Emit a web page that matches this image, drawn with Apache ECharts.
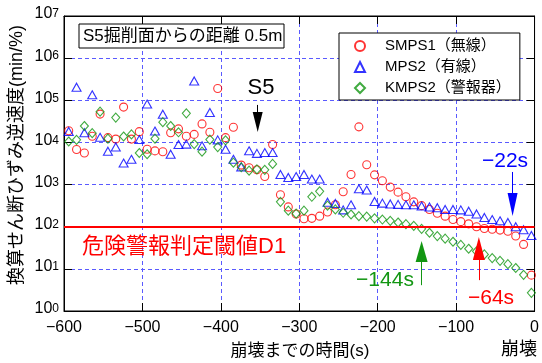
<!DOCTYPE html>
<html>
<head>
<meta charset="utf-8">
<script src="https://cdn.jsdelivr.net/npm/echarts@6/dist/echarts.min.js"></script>
<style>
  html, body { margin: 0; padding: 0; background: #fff; }
  #chart { width: 542px; height: 363px; }
</style>
</head>
<body>
<div id="chart"></div>
<script>
// 崩壊までの時間 (s)
const times = [
  -594, -584, -574, -564, -554, -544, -534, -524, -514, -504,
  -494, -484, -474, -464, -454, -444, -434, -424, -414, -404,
  -394, -384, -374, -364, -354, -344, -334, -324, -314, -304,
  -294, -284, -274, -264, -254, -244, -234, -224, -214, -204,
  -194, -184, -174, -164, -154, -144, -134, -124, -114, -104,
  -94, -84, -74, -64, -54, -44, -34, -24, -14, -4
];

// 換算せん断ひずみ逆速度 (min/%)
const smps1 = [
  19000, 6800, 5600, 14000, 47000, 13000, 12000, 69000, 12000, 18000,
  6900, 6300, 6000, 17000, 21000, 14000, 15500, 27500, 17500, 190000,
  13000, 23000, 2900, 2500, 2250, 1550, 8900, 575, 295, 200,
  155, 158, 178, 224, 331, 676, 1740, 23400, 2950, 1700,
  1230, 871, 661, 513, 389, 316, 257, 209, 178, 148,
  132, 117, 100, 91, 87, 83, 78, 60, 38, 7.1
];
const mps2 = [
  18200, 204000, 17000, 135000, 13200, 6170, 7760, 3240, 3980, 11700,
  81300, 18600, 46800, 5250, 8910, 9120, 288000, 8320, 51300, 11500,
  6920, 3980, 2630, 6310, 5500, 5750, 5750, 1740, 1480, 1550,
  1740, 1350, 1350, 380, 355, 251, 331, 794, 741, 398,
  363, 347, 339, 331, 331, 309, 295, 282, 257, 257,
  251, 234, 200, 166, 148, 138, 126, 100, 85, 62
];
const kmps2 = [
  10500, 11500, 24500, 16600, 53700, 12300, 38900, 13800, 15500, 5620,
  5250, 12300, 30200, 24500, 17400, 49000, 9120, 6030, 11700, 7760,
  11200, 3310, 2570, 2140, 2290, 2240, 3090, 389, 240, 204,
  240, 513, 692, 316, 257, 214, 195, 178, 174, 158,
  148, 138, 126, 115, 105, 89, 72, 60, 52, 44,
  37, 30, 26, 22, 18, 15.5, 12.9, 10.5, 7.2, 2.7
];

const seriesNames = ['SMPS1（無線）', 'MPS2（有線）', 'KMPS2（警報器）'];
const threshold = 100; // 危険警報判定閾値D1

// arrows: time, start value, end value (arrow head end)
const arrowS5 = [-353, 77600, 30500];
const arrow22 = [-28, 1990, 337];
const arrow144 = [-144, 4.1, 25.8];
const arrow64 = [-71, 5.4, 30.4];

const RED = '#ff0000', BLUE = '#0000ff', GREEN = '#129612';
const FONT = "'Liberation Sans', 'Noto Sans CJK JP', sans-serif";

const chart = echarts.init(document.getElementById('chart'));

const pts = (arr) => times.map((t, i) => [t, arr[i]]);

const arrowLine = (a, size) => [
  { coord: [a[0], a[1]], symbol: 'none' },
  { coord: [a[0], a[2]], symbol: 'triangle', symbolSize: size }
];

const minus = (v) => String(v).replace('-', '\u2212');

const xAxisBase = {
  type: 'value', min: -600, max: 0, interval: 100,
  axisLine: { show: true, onZero: false, lineStyle: { color: '#000', width: 1 } },
  axisTick: { show: true, inside: true, length: 8, lineStyle: { color: '#000' } }
};
const yAxisBase = {
  type: 'log', logBase: 10, min: 1, max: 1e7, splitNumber: 7,
  axisLine: { show: true, onZero: false, lineStyle: { color: '#000', width: 1 } },
  axisTick: { show: true, inside: true, length: 8, lineStyle: { color: '#000' } }
};
const gridLine = { show: true, lineStyle: { color: '#5a5aff', type: [4, 3], width: 1 } };

chart.setOption({
  animation: false,
  textStyle: { fontFamily: FONT, color: '#000' },
  grid: { left: 64, right: 5, top: 16, bottom: 52, show: true, borderColor: '#000', borderWidth: 1 },
  legend: {
    data: seriesNames,
    orient: 'vertical',
    left: 339, top: 33,
    padding: [5, 9, 4, 15],
    itemGap: 5,
    itemWidth: 10, itemHeight: 10,
    backgroundColor: '#fff',
    borderColor: '#000', borderWidth: 1, borderRadius: 0,
    textStyle: { fontSize: 15, lineHeight: 16, color: '#000', fontFamily: FONT, padding: [0, 0, 0, 15] }
  },
  xAxis: [
    Object.assign({}, xAxisBase, {
      position: 'bottom',
      axisLabel: { fontSize: 16, color: '#000', margin: 9, formatter: minus },
      splitLine: gridLine
    }),
    Object.assign({}, xAxisBase, {
      position: 'top', axisLabel: { show: false }, splitLine: { show: false }
    })
  ],
  yAxis: [
    Object.assign({}, yAxisBase, {
      position: 'left',
      axisLabel: {
        margin: 5,
        formatter: (v) => '{b|10}{s|' + Math.round(Math.log10(v)) + '}',
        rich: {
          b: { fontSize: 16, lineHeight: 16, verticalAlign: 'bottom', padding: [6, 0, 2, 0], color: '#000', fontFamily: FONT },
          s: { fontSize: 12, lineHeight: 12, verticalAlign: 'top', color: '#000', fontFamily: FONT }
        }
      },
      splitLine: gridLine
    }),
    Object.assign({}, yAxisBase, {
      position: 'right', axisLabel: { show: false }, splitLine: { show: false }
    })
  ],
  series: [
    {
      name: seriesNames[0], type: 'scatter', data: pts(smps1),
      symbol: 'circle', symbolSize: 8,
      itemStyle: { color: 'rgba(0,0,0,0)', borderColor: RED, borderWidth: 1.1 },
      markLine: {
        silent: true, animation: false, symbol: ['none', 'none'],
        label: { show: false },
        lineStyle: { color: RED, type: 'solid', width: 1 },
        data: [
          [{ coord: [-600, threshold], lineStyle: { width: 2.2 } }, { coord: [0, threshold], lineStyle: { width: 2.2 } }],
          arrowLine(arrow64, [12, 23])
        ]
      }
    },
    {
      name: seriesNames[1], type: 'scatter', data: pts(mps2),
      symbol: 'triangle', symbolSize: [9, 8],
      itemStyle: { color: 'rgba(0,0,0,0)', borderColor: BLUE, borderWidth: 1.1 },
      markLine: {
        silent: true, animation: false, symbol: ['none', 'none'],
        label: { show: false },
        lineStyle: { color: BLUE, type: 'solid', width: 1 },
        data: [arrowLine(arrow22, [10, 23])]
      }
    },
    {
      name: seriesNames[2], type: 'scatter', data: pts(kmps2),
      symbol: 'diamond', symbolSize: [8, 9],
      itemStyle: { color: 'rgba(0,0,0,0)', borderColor: GREEN, borderWidth: 1.1 },
      markLine: {
        silent: true, animation: false, symbol: ['none', 'none'],
        label: { show: false },
        lineStyle: { color: GREEN, type: 'solid', width: 1 },
        data: [arrowLine(arrow144, [12, 21])]
      }
    },
    {
      name: 'S5', type: 'scatter', data: [],
      markLine: {
        silent: true, animation: false, symbol: ['none', 'none'],
        label: { show: false },
        lineStyle: { color: '#000', type: 'solid', width: 1 },
        data: [arrowLine(arrowS5, [10, 20])]
      }
    }
  ],
  graphic: [
    { type: 'rect', shape: { x: 79, y: 24, width: 205, height: 24 }, style: { fill: '#fff', stroke: '#000', lineWidth: 1 }, z: 50 },
    { type: 'text', x: 83, y: 36, z: 51, style: { text: 'S5掘削面からの距離 0.5m', font: '17px ' + FONT, fill: '#000', verticalAlign: 'middle' } },
    { type: 'text', x: 261, y: 88, z: 51, style: { text: 'S5', font: '22px ' + FONT, fill: '#000', align: 'center', verticalAlign: 'middle' } },
    { type: 'text', x: 82, y: 247, z: 51, style: { text: '危険警報判定閾値D1', font: '22px ' + FONT, fill: RED, verticalAlign: 'middle' } },
    { type: 'text', x: 505, y: 161, z: 51, style: { text: '\u221222s', font: '21px ' + FONT, fill: BLUE, align: 'center', verticalAlign: 'middle' } },
    { type: 'text', x: 385, y: 280, z: 51, style: { text: '\u2212144s', font: '21px ' + FONT, fill: GREEN, align: 'center', verticalAlign: 'middle' } },
    { type: 'text', x: 491, y: 298, z: 51, style: { text: '\u221264s', font: '21px ' + FONT, fill: RED, align: 'center', verticalAlign: 'middle' } },
    { type: 'text', x: 300, y: 351, z: 51, style: { text: '崩壊までの時間(s)', font: '17px ' + FONT, fill: '#000', align: 'center', verticalAlign: 'middle' } },
    { type: 'text', x: 537, y: 350, z: 51, style: { text: '崩壊', font: '18px ' + FONT, fill: '#000', align: 'right', verticalAlign: 'middle' } },
    { type: 'text', x: 17, y: 155, rotation: Math.PI / 2, z: 51, style: { text: '換算せん断ひずみ逆速度(min/%)', font: '18px ' + FONT, fill: '#000', align: 'center', verticalAlign: 'middle' } }
  ]
});
</script>
</body>
</html>
